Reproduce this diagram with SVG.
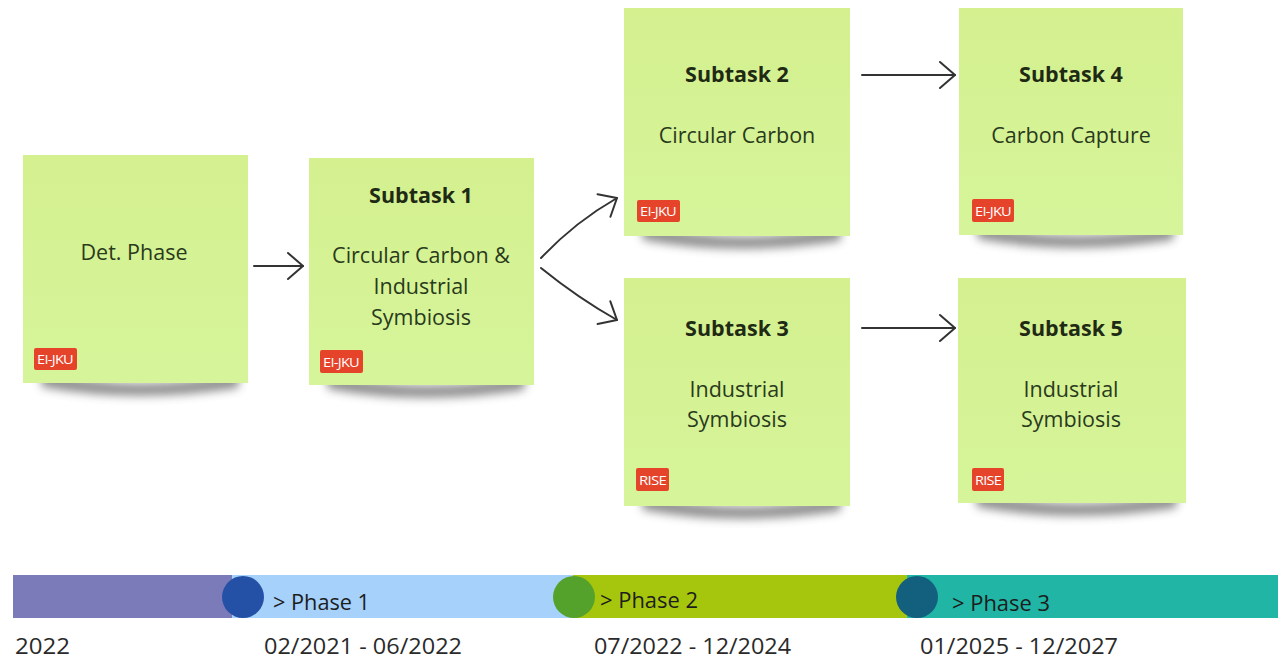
<svg xmlns="http://www.w3.org/2000/svg" width="1286" height="658" viewBox="0 0 1286 658">
<defs>
<linearGradient id="stk" x1="0" y1="0" x2="0" y2="1">
<stop offset="0" stop-color="#d4f08f"/>
<stop offset="1" stop-color="#d6f59a"/>
</linearGradient>
<filter id="sh" x="-20%" y="-100%" width="140%" height="300%">
<feGaussianBlur stdDeviation="5"/>
</filter>
<marker id="ah" viewBox="0 0 18 30" refX="17" refY="15" markerWidth="18" markerHeight="30" markerUnits="userSpaceOnUse" orient="auto">
<path d="M2,2 L17,15 L2,28" fill="none" stroke="#333" stroke-width="2" stroke-linecap="round" stroke-linejoin="round"/>
</marker>
<style>
.sticky{fill:url(#stk);}
.shadow{fill:#444;opacity:0.6;filter:url(#sh);}
.ttl{font-family:"Open Sans",sans-serif;font-weight:bold;font-size:21.5px;fill:#1f2a14;text-anchor:middle;}
.body{font-family:"Open Sans",sans-serif;font-size:21.5px;fill:#2a3a1c;text-anchor:middle;}
.tag{fill:#e5432a;}
.tagt{font-family:"Open Sans",sans-serif;font-size:12px;fill:#fff;letter-spacing:-0.6px;}
.conn{fill:none;stroke:#333;stroke-width:2;stroke-linecap:round;marker-end:url(#ah);}
.tl{font-family:"Open Sans",sans-serif;font-size:21px;fill:#1d1d1d;}
.dt{font-family:"Open Sans",sans-serif;font-size:22px;fill:#2a2a2a;}
</style>
</defs>
<rect width="1286" height="658" fill="#ffffff"/>

<g id="det-phase">
<path class="shadow" d="M40,370 Q135,396 240,372 L238,388 Q135,404 42,387 Z"/>
<rect class="sticky" x="23" y="155" width="225" height="228"/>
<text class="body" x="134" y="260">Det. Phase</text>
<rect class="tag" x="34" y="348" width="43" height="22" rx="2"/>
<text class="tagt" x="37" y="364" textLength="36" lengthAdjust="spacingAndGlyphs">EI-JKU</text>
</g>

<g id="subtask-1">
<path class="shadow" d="M326,372 Q421,398 526,374 L524,390 Q421,406 328,389 Z"/>
<rect class="sticky" x="309" y="158" width="225" height="227"/>
<text class="ttl" x="421" y="203">Subtask 1</text>
<text class="body" x="421" y="263">Circular Carbon &amp;</text>
<text class="body" x="421" y="294">Industrial</text>
<text class="body" x="421" y="325">Symbiosis</text>
<rect class="tag" x="320" y="350" width="43" height="23" rx="2"/>
<text class="tagt" x="323" y="366.5" textLength="36" lengthAdjust="spacingAndGlyphs">EI-JKU</text>
</g>

<g id="subtask-2">
<path class="shadow" d="M641,223 Q737,249 842,225 L840,241 Q737,257 643,240 Z"/>
<rect class="sticky" x="624" y="8" width="226" height="228"/>
<text class="ttl" x="737" y="82">Subtask 2</text>
<text class="body" x="737" y="143">Circular Carbon</text>
<rect class="tag" x="637" y="200" width="43" height="22" rx="2"/>
<text class="tagt" x="640" y="216" textLength="36" lengthAdjust="spacingAndGlyphs">EI-JKU</text>
</g>

<g id="subtask-3">
<path class="shadow" d="M641,493 Q737,519 842,495 L840,511 Q737,527 643,510 Z"/>
<rect class="sticky" x="624" y="278" width="226" height="228"/>
<text class="ttl" x="737" y="336">Subtask 3</text>
<text class="body" x="737" y="397">Industrial</text>
<text class="body" x="737" y="427">Symbiosis</text>
<rect class="tag" x="636" y="468" width="33" height="23" rx="2"/>
<text class="tagt" x="639" y="484.5" textLength="27" lengthAdjust="spacingAndGlyphs">RISE</text>
</g>

<g id="subtask-4">
<path class="shadow" d="M976,222 Q1071,248 1175,224 L1173,240 Q1071,256 978,239 Z"/>
<rect class="sticky" x="959" y="8" width="224" height="227"/>
<text class="ttl" x="1071" y="82">Subtask 4</text>
<text class="body" x="1071" y="143">Carbon Capture</text>
<rect class="tag" x="972" y="199" width="42" height="23" rx="2"/>
<text class="tagt" x="975" y="215.5" textLength="36" lengthAdjust="spacingAndGlyphs">EI-JKU</text>
</g>

<g id="subtask-5">
<path class="shadow" d="M975,490 Q1071,516 1178,492 L1176,508 Q1071,524 977,507 Z"/>
<rect class="sticky" x="958" y="278" width="228" height="225"/>
<text class="ttl" x="1071" y="336">Subtask 5</text>
<text class="body" x="1071" y="397">Industrial</text>
<text class="body" x="1071" y="427">Symbiosis</text>
<rect class="tag" x="972" y="468" width="32" height="23" rx="2"/>
<text class="tagt" x="975" y="484.5" textLength="26" lengthAdjust="spacingAndGlyphs">RISE</text>
</g>

<g id="connectors">
<path class="conn" d="M254,266 L303,266"/>
<path class="conn" d="M541,258 Q575,222 617,198"/>
<path class="conn" d="M541,268 Q578,298 617,320"/>
<path class="conn" d="M862,75 L955,75"/>
<path class="conn" d="M862,328 L955,328"/>
</g>

<g id="timeline">
<rect x="13" y="575" width="220" height="43" fill="#7b7bba"/>
<rect x="232" y="575" width="342" height="43" fill="#a5d1fb"/>
<rect x="573" y="575" width="335" height="43" fill="#a6c60e"/>
<rect x="907" y="575" width="371" height="43" fill="#20b5a5"/>
<circle cx="243" cy="597" r="21" fill="#2451a6"/>
<circle cx="574" cy="597" r="21" fill="#54a12c"/>
<circle cx="917" cy="597" r="21" fill="#135f7e"/>
<text class="tl" x="273" y="610" textLength="97" lengthAdjust="spacingAndGlyphs">&gt; Phase 1</text>
<text class="tl" x="600" y="608" textLength="98" lengthAdjust="spacingAndGlyphs">&gt; Phase 2</text>
<text class="tl" x="952" y="611" textLength="98" lengthAdjust="spacingAndGlyphs">&gt; Phase 3</text>
<text class="dt" x="15" y="654" textLength="55" lengthAdjust="spacingAndGlyphs">2022</text>
<text class="dt" x="264" y="654" textLength="198" lengthAdjust="spacingAndGlyphs">02/2021 - 06/2022</text>
<text class="dt" x="594" y="654" textLength="197" lengthAdjust="spacingAndGlyphs">07/2022 - 12/2024</text>
<text class="dt" x="920" y="654" textLength="198" lengthAdjust="spacingAndGlyphs">01/2025 - 12/2027</text>
</g>
</svg>
